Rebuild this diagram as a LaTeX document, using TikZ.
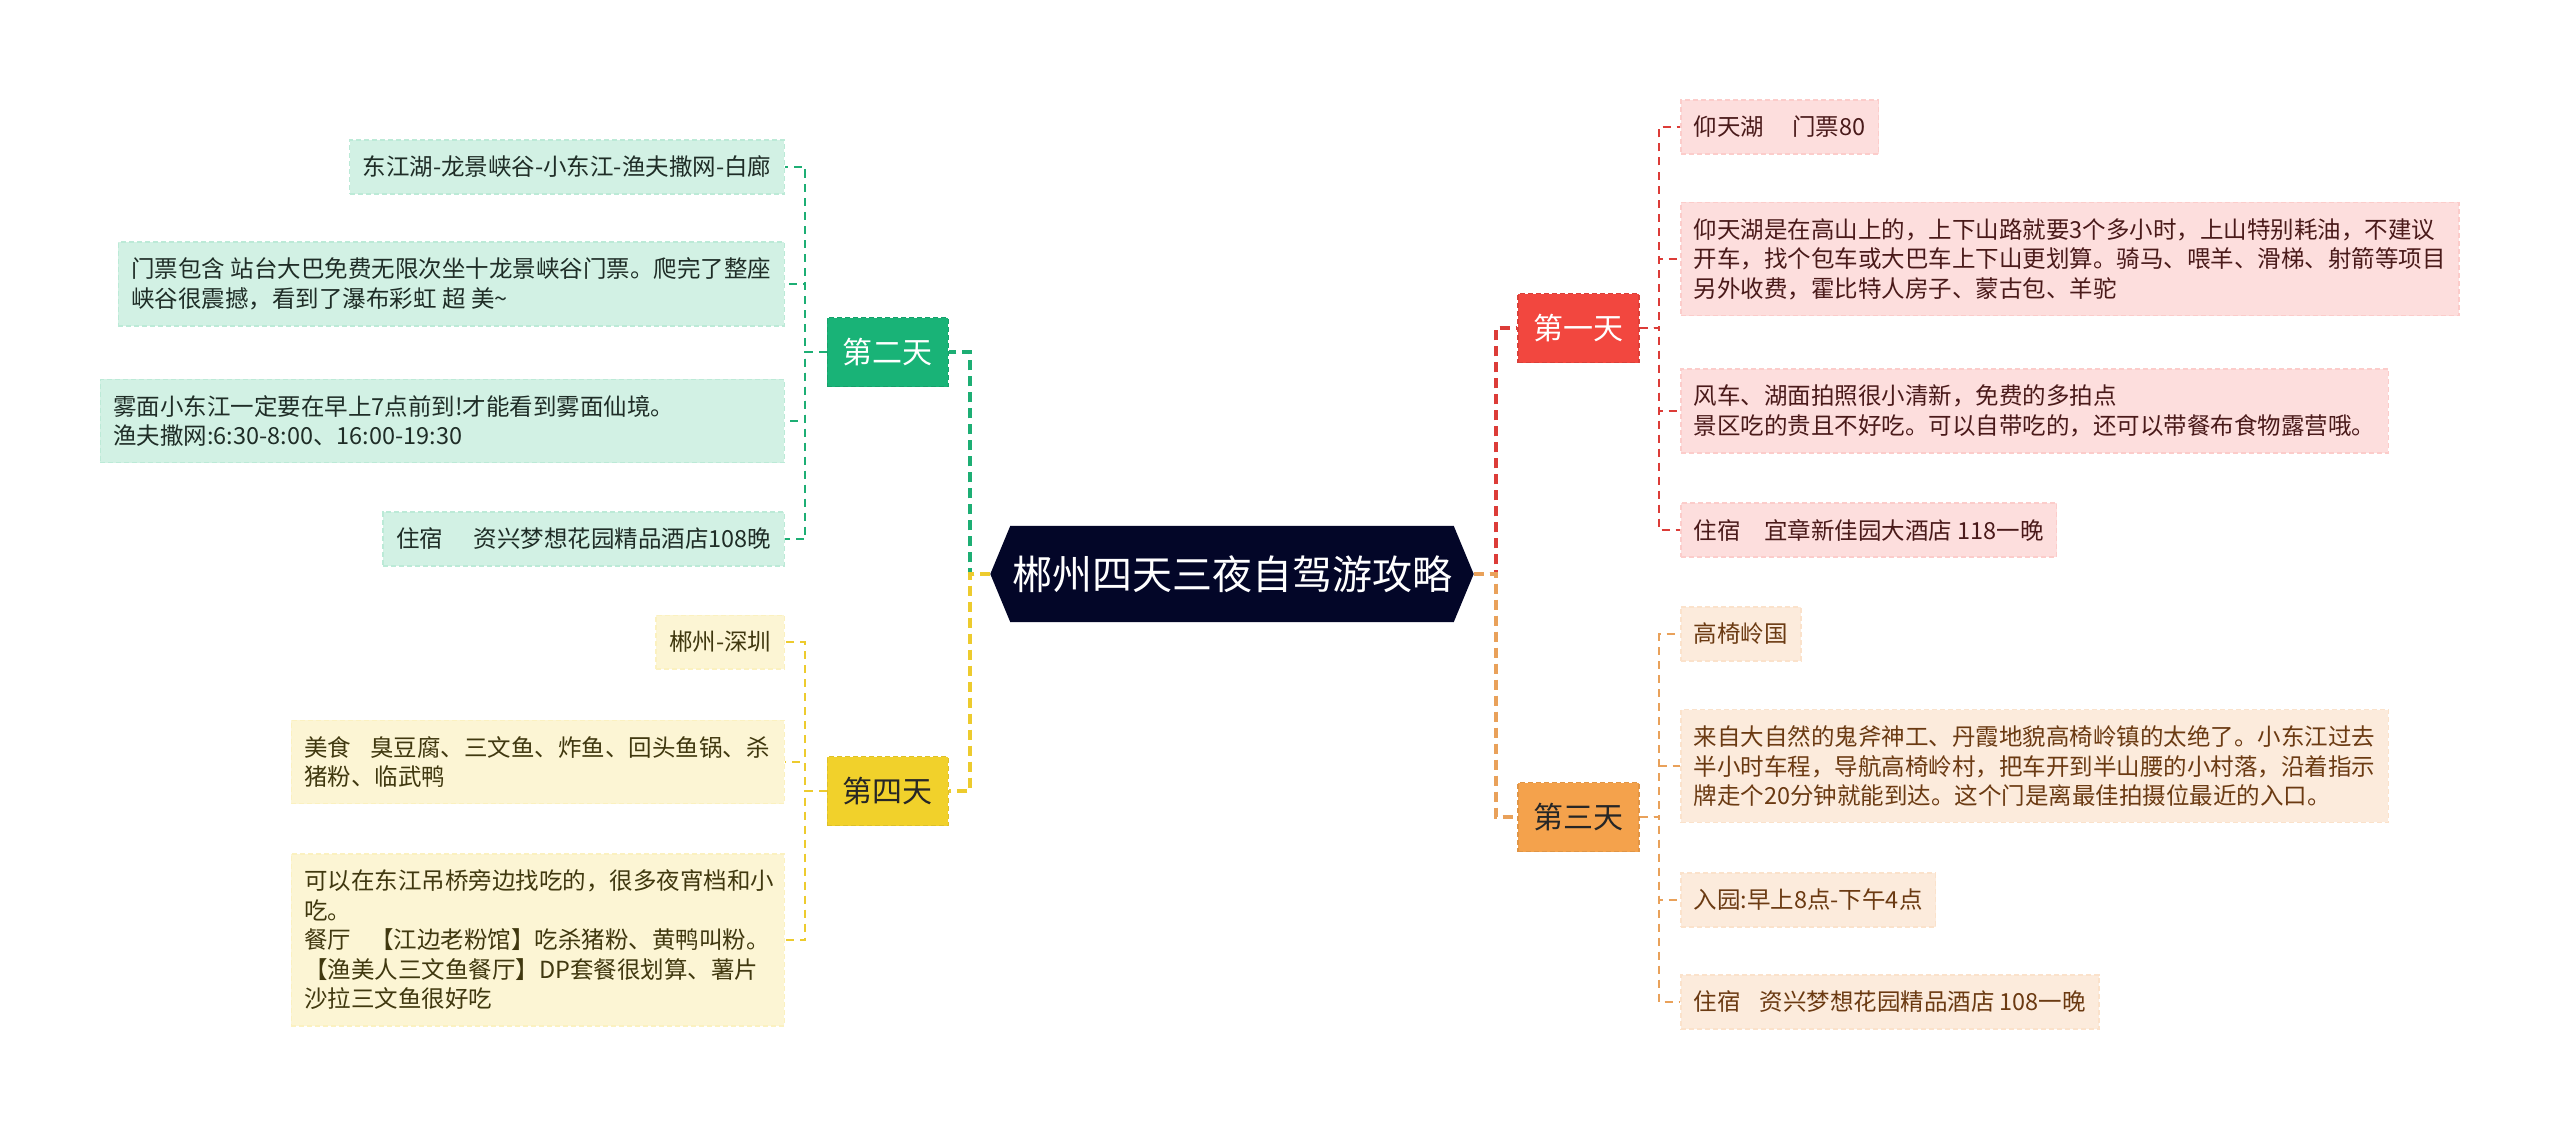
\documentclass[tikz,border=0pt]{standalone}
\usepackage{fontspec}
\newfontfamily\cjk{Noto Sans CJK SC}
\usetikzlibrary{backgrounds}
\definecolor{rootc}{HTML}{030628}
\definecolor{aMain}{HTML}{F2473F}
\definecolor{aLight}{HTML}{FDDEDD}
\definecolor{aText}{HTML}{4A1A1A}
\definecolor{aLine}{HTML}{DC3C38}
\definecolor{bMain}{HTML}{19B377}
\definecolor{bLight}{HTML}{D2F1E4}
\definecolor{bText}{HTML}{1F2D27}
\definecolor{bLine}{HTML}{1DAE74}
\definecolor{cMain}{HTML}{F4A24C}
\definecolor{cLight}{HTML}{FCEBDC}
\definecolor{cText}{HTML}{6B3A12}
\definecolor{cLine}{HTML}{E9A15A}
\definecolor{dMain}{HTML}{F1D12B}
\definecolor{dLight}{HTML}{FCF5D4}
\definecolor{dText}{HTML}{40380F}
\definecolor{dLine}{HTML}{EDCB2E}
\begin{document}
\begin{tikzpicture}[x=1pt,y=-1pt,
  childbase/.style={rectangle, line width=1.5pt, dash pattern=on 5pt off 3pt,
    inner xsep=13pt, inner ysep=16pt, minimum height=52pt, align=left,
    font=\cjk\fontsize{23.5}{29.5}\selectfont},
  rkid/.style={childbase, anchor=west},
  lkid/.style={childbase, anchor=east},
  kidA/.style={fill=aLight, draw=aLight!88!aMain, text=aText},
  kidB/.style={fill=bLight, draw=bLight!88!bMain, text=bText},
  kidC/.style={fill=cLight, draw=cLight!88!cMain, text=cText},
  kidD/.style={fill=dLight, draw=dLight!88!dMain, text=dText},
  branchbase/.style={rectangle, minimum width=121pt, minimum height=69pt, inner sep=0pt,
    line width=1.5pt, dash pattern=on 5pt off 3pt, font=\cjk\fontsize{30}{36}\selectfont},
  lvlone/.style={line width=3.5pt, dash pattern=on 10pt off 6pt},
  lvltwo/.style={line width=2pt, dash pattern=on 8pt off 6pt}]
\useasboundingbox (0,0) rectangle (2560,1129);

% root
\node[font=\cjk\fontsize{40}{48}\selectfont, text=white, minimum width=483pt,
  minimum height=96pt, inner sep=0pt] (root) at (1232,574) {郴州四天三夜自驾游攻略};
\begin{scope}[on background layer]
\fill[white] (0,0) rectangle (2560,1129);
\fill[rootc] (root.west) -- ([xshift=20pt]root.north west) -- ([xshift=-20pt]root.north east)
  -- (root.east) -- ([xshift=-20pt]root.south east) -- ([xshift=20pt]root.south west) -- cycle;
\end{scope}

% branches
\node[branchbase, anchor=west, fill=aMain, draw=aMain!90!black, text=white] (dA) at (1517,328) {第一天};
\node[branchbase, anchor=west, fill=cMain, draw=cMain!92!black, text=black!85] (dC) at (1517,817) {第三天};
\node[branchbase, anchor=east, fill=bMain, draw=bMain!90!black, text=white] (dB) at (949,352) {第二天};
\node[branchbase, anchor=east, fill=dMain, draw=dMain!92!black, text=black!85] (dD) at (949,791) {第四天};

% day 1 children
\node[rkid, kidA] (a1) at (1680,127) {仰天湖\hspace{1.2em}门票80};
\node[rkid, kidA] (a2) at (1680,259) {仰天湖是在高山上的，上下山路就要3个多小时，上山特别耗油，不建议\\开车，找个包车或大巴车上下山更划算。骑马、喂羊、滑梯、射箭等项目\\另外收费，霍比特人房子、蒙古包、羊驼};
\node[rkid, kidA] (a3) at (1680,411) {风车、湖面拍照很小清新，免费的多拍点\\景区吃的贵且不好吃。可以自带吃的，还可以带餐布食物露营哦。};
\node[rkid, kidA] (a4) at (1680,530) {住宿\hspace{1em}宜章新佳园大酒店 118一晚};

% day 3 children
\node[rkid, kidC] (c1) at (1680,634) {高椅岭国};
\node[rkid, kidC] (c2) at (1680,766) {来自大自然的鬼斧神工、丹霞地貌高椅岭镇的太绝了。小东江过去\\半小时车程，导航高椅岭村，把车开到半山腰的小村落，沿着指示\\牌走个20分钟就能到达。这个门是离最佳拍摄位最近的入口。};
\node[rkid, kidC] (c3) at (1680,900) {入园:早上8点-下午4点};
\node[rkid, kidC] (c4) at (1680,1002) {住宿\hspace{0.8em}资兴梦想花园精品酒店 108一晚};

% day 2 children
\node[lkid, kidB] (b1) at (785,167) {东江湖-龙景峡谷-小东江-渔夫撒网-白廊};
\node[lkid, kidB] (b2) at (785,284) {门票包含 站台大巴免费无限次坐十龙景峡谷门票。爬完了整座\\峡谷很震撼，看到了瀑布彩虹 超 美\textasciitilde};
\node[lkid, kidB, text width=658pt] (b3) at (785,421) {雾面小东江一定要在早上7点前到!才能看到雾面仙境。\\渔夫撒网:6:30-8:00、16:00-19:30};
\node[lkid, kidB] (b4) at (785,539) {住宿\hspace{1.3em}资兴梦想花园精品酒店108晚};

% day 4 children
\node[lkid, kidD] (e1) at (785,642) {郴州-深圳};
\node[lkid, kidD, text width=467pt] (e2) at (785,762) {美食\hspace{0.8em}臭豆腐、三文鱼、炸鱼、回头鱼锅、杀\\猪粉、临武鸭};
\node[lkid, kidD, text width=467pt] (e3) at (785,940) {可以在东江吊桥旁边找吃的，很多夜宵档和小\\吃。\\餐厅\hspace{0.8em}【江边老粉馆】吃杀猪粉、黄鸭叫粉。\\【渔美人三文鱼餐厅】DP套餐很划算、薯片\\沙拉三文鱼很好吃};

% junction coordinates
\coordinate (tr) at (1496,574);
\coordinate (tl) at (970,574);
\coordinate (jA) at (1659,328);
\coordinate (jC) at (1659,817);
\coordinate (jB) at (805,352);
\coordinate (jD) at (805,791);

% level one connectors
\draw[lvlone, aLine] (root.east) -- (tr) |- (dA.west);
\draw[lvlone, cLine] (root.east) -- (tr) |- (dC.west);
\draw[lvlone, bLine] (root.west) -- (tl) |- (dB.east);
\draw[lvlone, dLine] (root.west) -- (tl) |- (dD.east);

% level two connectors
\foreach \k in {a1,a2,a3,a4} {\draw[lvltwo, aLine] (dA.east) -- (jA) |- (\k.west);}
\foreach \k in {c1,c2,c3,c4} {\draw[lvltwo, cLine] (dC.east) -- (jC) |- (\k.west);}
\foreach \k in {b1,b2,b3,b4} {\draw[lvltwo, bLine] (dB.west) -- (jB) |- (\k.east);}
\foreach \k in {e1,e2,e3} {\draw[lvltwo, dLine] (dD.west) -- (jD) |- (\k.east);}
\end{tikzpicture}
\end{document}
